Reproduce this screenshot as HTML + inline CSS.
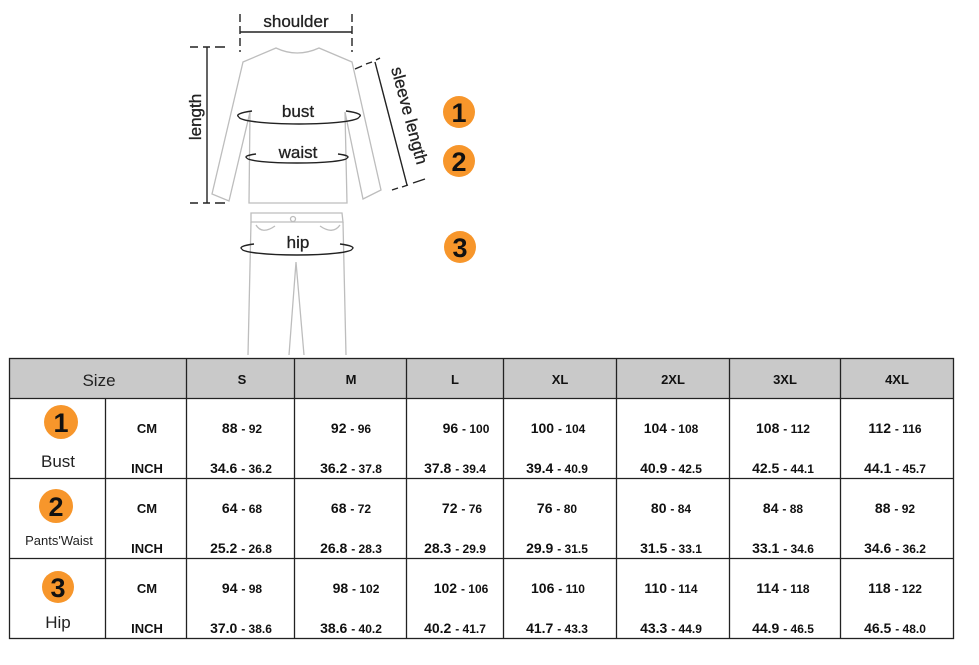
<!DOCTYPE html>
<html><head><meta charset="utf-8"><style>
html,body{margin:0;padding:0;background:#fff;}
svg{display:block;font-family:"Liberation Sans",Arial,sans-serif;}
.b{font-weight:bold;fill:#111;}
</style></head><body>
<svg width="979" height="665" viewBox="0 0 979 665" xmlns="http://www.w3.org/2000/svg">
<!-- illustration -->
<g fill="none" stroke="#bdbdbd" stroke-width="1.3">
 <path d="M243,62 L276,48 Q297,58 319,48 L352,62 L381,190 L363,199 L345,112 L347,203 L249,203 L250,112 L229,201 L212,194 Z"/>
 <path d="M251,213 L342,213 L343,222 L251,222 Z"/>
 <path d="M251,222 L248,355 M343,222 L346,355 M296,262 L289,355 M296,262 L304,355"/>
 <path d="M256,225 Q262,235 275,226 M340,225 Q333,235 320,226"/>
 <circle cx="293" cy="219" r="2.5"/>
</g>
<g stroke="#222" stroke-width="1.4" fill="none">
 <line x1="240" y1="32" x2="352" y2="32"/>
 <path d="M240,14 V22 M240,26 V34 M240,38 V46 M240,50 V52 M352,14 V22 M352,26 V34 M352,38 V46 M352,50 V52"/>
 <line x1="207" y1="47" x2="207" y2="203"/>
 <path d="M190,47 H198 M203,47 H210 M215,47 H225 M190,203 H198 M203,203 H210 M215,203 H225"/>
 <line x1="375" y1="62" x2="407" y2="185"/>
 <path d="M355,69 L362,66 M366,64 L372,62 M376,60 L380,58 M392,190 L398,188 M402,187 L408,185 M413,183 L425,179"/>
 <path d="M239,117 A60,7 0 0 0 359,117 M239,117 A60,7 0 0 1 252,111 M359,117 A60,7 0 0 0 346,111"/>
 <path d="M247,158 A50,5 0 0 0 347,158 M247,158 A50,5 0 0 1 256,154 M347,158 A50,5 0 0 0 338,154"/>
 <path d="M242,249 A55,6 0 0 0 352,249 M242,249 A55,6 0 0 1 254,244 M352,249 A55,6 0 0 0 340,244"/>
</g>
<g font-size="17" fill="#222" style="font-weight:500" stroke="#222" stroke-width="0.3">
 <text x="296" y="27" text-anchor="middle">shoulder</text>
 <text x="298" y="117" text-anchor="middle">bust</text>
 <text x="298" y="158" text-anchor="middle">waist</text>
 <text x="298" y="248" text-anchor="middle">hip</text>
 <text transform="translate(201,117) rotate(-90)" text-anchor="middle">length</text>
 <text transform="translate(404,117) rotate(75)" text-anchor="middle">sleeve length</text>
</g>
<g fill="#f7962b">
 <circle cx="459" cy="112" r="16"/><circle cx="459" cy="161" r="16"/><circle cx="460" cy="247" r="16"/>
 <circle cx="61" cy="422" r="17"/><circle cx="56" cy="506" r="17"/><circle cx="58" cy="587" r="16"/>
</g>
<g class="b" font-size="27" text-anchor="middle">
 <text x="459" y="122">1</text><text x="459" y="171">2</text><text x="460" y="257">3</text>
 <text x="61" y="432">1</text><text x="56" y="516">2</text><text x="58" y="597">3</text>
</g>
<!-- table -->
<rect x="9.5" y="358.5" width="944" height="40" fill="#c9c9c9"/>
<g stroke="#222" stroke-width="1.3" fill="none">
 <rect x="9.5" y="358.5" width="944" height="280"/>
 <line x1="9" y1="398.5" x2="954" y2="398.5"/>
 <line x1="9" y1="478.5" x2="954" y2="478.5"/>
 <line x1="9" y1="558.5" x2="954" y2="558.5"/>
 <line x1="105.5" y1="398" x2="105.5" y2="638"/>
 <line x1="186.5" y1="358" x2="186.5" y2="638"/>
 <line x1="294.5" y1="358" x2="294.5" y2="638"/>
 <line x1="406.5" y1="358" x2="406.5" y2="638"/>
 <line x1="503.5" y1="358" x2="503.5" y2="638"/>
 <line x1="616.5" y1="358" x2="616.5" y2="638"/>
 <line x1="729.5" y1="358" x2="729.5" y2="638"/>
 <line x1="840.5" y1="358" x2="840.5" y2="638"/>
</g>
<text x="99" y="386" font-size="17" fill="#222" text-anchor="middle">Size</text>
<g class="b" font-size="13" text-anchor="middle">
 <text x="242" y="384">S</text><text x="351" y="384">M</text><text x="455" y="384">L</text>
 <text x="560" y="384">XL</text><text x="673" y="384">2XL</text><text x="785" y="384">3XL</text><text x="897" y="384">4XL</text>
 <text x="147" y="433">CM</text><text x="147" y="473">INCH</text>
 <text x="147" y="513">CM</text><text x="147" y="553">INCH</text>
 <text x="147" y="593">CM</text><text x="147" y="633">INCH</text>
</g>
<g font-size="17" fill="#222" text-anchor="middle">
 <text x="58" y="467">Bust</text><text x="58" y="628">Hip</text>
</g>
<text x="59" y="545" font-size="13" fill="#222" text-anchor="middle">Pants'Waist</text>
<g class="b" font-size="14" text-anchor="middle">
 <text x="242" y="433">88 <tspan font-size="12">- 92</tspan></text>
 <text x="351" y="433">92 <tspan font-size="12">- 96</tspan></text>
 <text x="466" y="433">96 <tspan font-size="12">- 100</tspan></text>
 <text x="558" y="433">100 <tspan font-size="12">- 104</tspan></text>
 <text x="671" y="433">104 <tspan font-size="12">- 108</tspan></text>
 <text x="783" y="433">108 <tspan font-size="12">- 112</tspan></text>
 <text x="895" y="433">112 <tspan font-size="12">- 116</tspan></text>
 <text x="241" y="473">34.6 <tspan font-size="12">- 36.2</tspan></text>
 <text x="351" y="473">36.2 <tspan font-size="12">- 37.8</tspan></text>
 <text x="455" y="473">37.8 <tspan font-size="12">- 39.4</tspan></text>
 <text x="557" y="473">39.4 <tspan font-size="12">- 40.9</tspan></text>
 <text x="671" y="473">40.9 <tspan font-size="12">- 42.5</tspan></text>
 <text x="783" y="473">42.5 <tspan font-size="12">- 44.1</tspan></text>
 <text x="895" y="473">44.1 <tspan font-size="12">- 45.7</tspan></text>
 <text x="242" y="513">64 <tspan font-size="12">- 68</tspan></text>
 <text x="351" y="513">68 <tspan font-size="12">- 72</tspan></text>
 <text x="462" y="513">72 <tspan font-size="12">- 76</tspan></text>
 <text x="557" y="513">76 <tspan font-size="12">- 80</tspan></text>
 <text x="671" y="513">80 <tspan font-size="12">- 84</tspan></text>
 <text x="783" y="513">84 <tspan font-size="12">- 88</tspan></text>
 <text x="895" y="513">88 <tspan font-size="12">- 92</tspan></text>
 <text x="241" y="553">25.2 <tspan font-size="12">- 26.8</tspan></text>
 <text x="351" y="553">26.8 <tspan font-size="12">- 28.3</tspan></text>
 <text x="455" y="553">28.3 <tspan font-size="12">- 29.9</tspan></text>
 <text x="557" y="553">29.9 <tspan font-size="12">- 31.5</tspan></text>
 <text x="671" y="553">31.5 <tspan font-size="12">- 33.1</tspan></text>
 <text x="783" y="553">33.1 <tspan font-size="12">- 34.6</tspan></text>
 <text x="895" y="553">34.6 <tspan font-size="12">- 36.2</tspan></text>
 <text x="242" y="593">94 <tspan font-size="12">- 98</tspan></text>
 <text x="356" y="593">98 <tspan font-size="12">- 102</tspan></text>
 <text x="461" y="593">102 <tspan font-size="12">- 106</tspan></text>
 <text x="558" y="593">106 <tspan font-size="12">- 110</tspan></text>
 <text x="671" y="593">110 <tspan font-size="12">- 114</tspan></text>
 <text x="783" y="593">114 <tspan font-size="12">- 118</tspan></text>
 <text x="895" y="593">118 <tspan font-size="12">- 122</tspan></text>
 <text x="241" y="633">37.0 <tspan font-size="12">- 38.6</tspan></text>
 <text x="351" y="633">38.6 <tspan font-size="12">- 40.2</tspan></text>
 <text x="455" y="633">40.2 <tspan font-size="12">- 41.7</tspan></text>
 <text x="557" y="633">41.7 <tspan font-size="12">- 43.3</tspan></text>
 <text x="671" y="633">43.3 <tspan font-size="12">- 44.9</tspan></text>
 <text x="783" y="633">44.9 <tspan font-size="12">- 46.5</tspan></text>
 <text x="895" y="633">46.5 <tspan font-size="12">- 48.0</tspan></text>
</g>
</svg>
</body></html>
